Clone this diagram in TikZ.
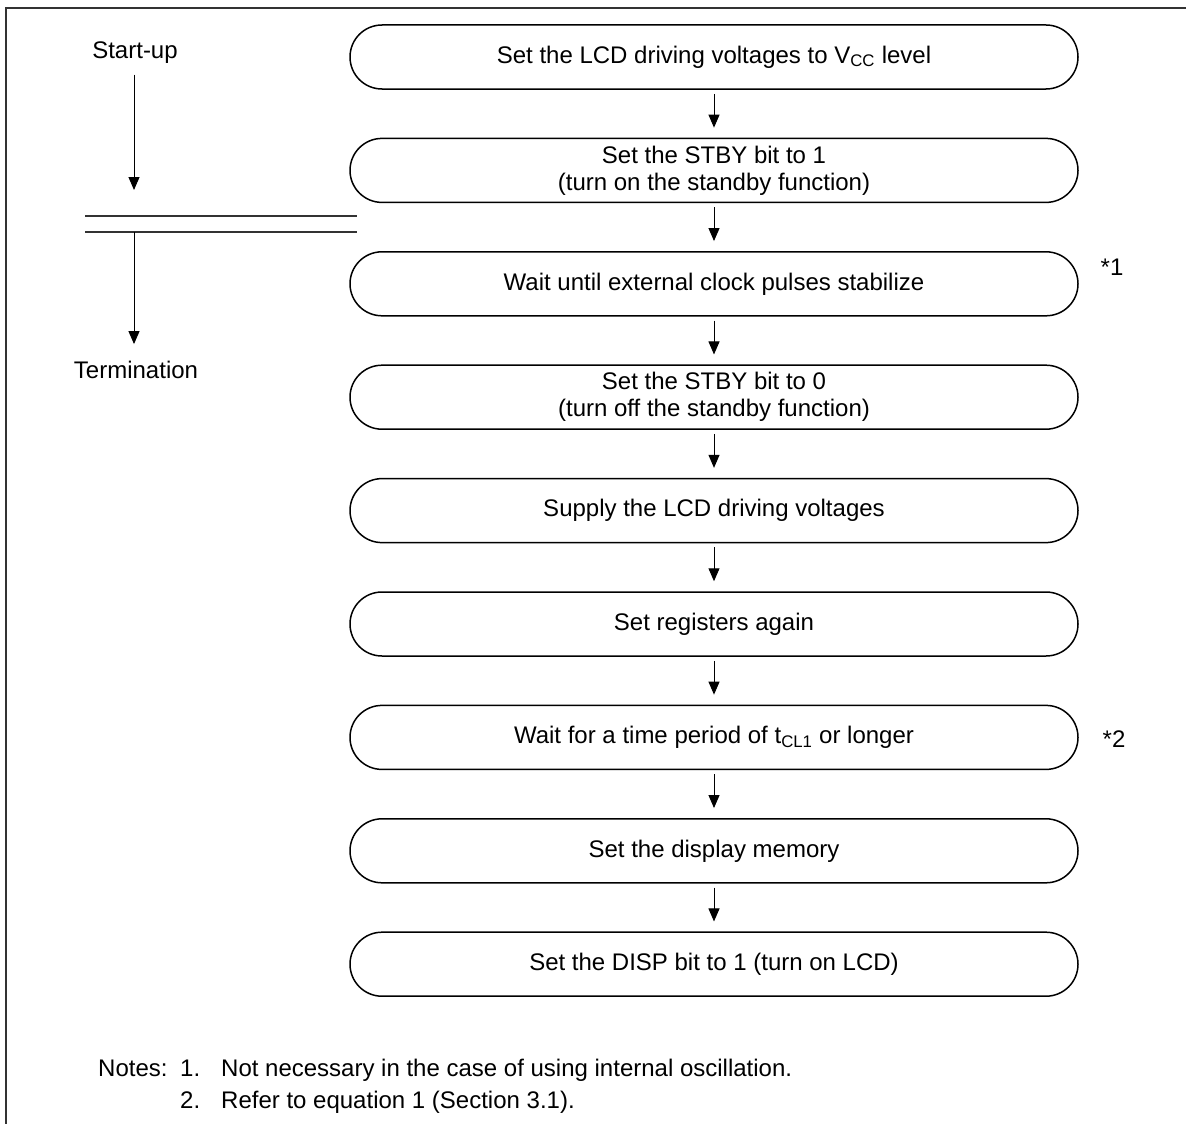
\documentclass[tikz,border=0pt]{standalone}
\usepackage{fontspec}
\setmainfont{Liberation Sans}
\usetikzlibrary{arrows.meta}

\begin{document}
\begin{tikzpicture}[x=1pt,y=-1pt,node distance=113.4pt,
  every node/.style={font=\fontsize{24}{27}\selectfont},
  box/.style={draw,line width=1.5pt,rounded corners=32pt,minimum width=728pt,minimum height=64pt,align=center},
  note/.style={anchor=base west,inner sep=0pt},
  >={Triangle[length=13pt,width=11pt]}]
\useasboundingbox (0,0) rectangle (1186,1124);
\draw [black!80, line width=1.3pt] (6,1124) -- (6,8) -- (1186,8);

\node [box] (a) at (714,57) {Set the LCD driving voltages to V\textsubscript{CC} level};
\node [box, below of=a] (b) {Set the STBY bit to 1\\(turn on the standby function)};
\node [box, below of=b] (c) {Wait until external clock pulses stabilize};
\node [box, below of=c] (d) {Set the STBY bit to 0\\(turn off the standby function)};
\node [box, below of=d] (e) {Supply the LCD driving voltages};
\node [box, below of=e] (f) {Set registers again};
\node [box, below of=f] (g) {Wait for a time period of t\textsubscript{CL1} or longer};
\node [box, below of=g] (h) {Set the display memory};
\node [box, below of=h] (i) {Set the DISP bit to 1 (turn on LCD)};
\node [right of=c, node distance=398pt, yshift=17pt] (s1) {*1};
\node [right of=g, node distance=400pt, yshift=-2pt] (s2) {*2};

\draw [->, line width=1pt, shorten <=4pt, shorten >=10pt] (a) -- (b);
\draw [->, line width=1pt, shorten <=4pt, shorten >=10pt] (b) -- (c);
\draw [->, line width=1pt, shorten <=4pt, shorten >=10pt] (c) -- (d);
\draw [->, line width=1pt, shorten <=4pt, shorten >=10pt] (d) -- (e);
\draw [->, line width=1pt, shorten <=4pt, shorten >=10pt] (e) -- (f);
\draw [->, line width=1pt, shorten <=4pt, shorten >=10pt] (f) -- (g);
\draw [->, line width=1pt, shorten <=4pt, shorten >=10pt] (g) -- (h);
\draw [->, line width=1pt, shorten <=4pt, shorten >=10pt] (h) -- (i);

% start-up / termination
\node [anchor=base] (up) at (135,59) {Start-up};
\node [anchor=base] (term) at (136,378) {Termination};
\coordinate (upend) at (134,190);
\coordinate (l1) at (85,216);
\coordinate (r1) at (357,216);
\coordinate (l2) at (85,232);
\coordinate (r2) at (357,232);
\coordinate (down) at (134,232);
\draw [->, line width=1pt, shorten <=7pt] (up.south -| upend) -- (upend);
\draw [black!80, line width=1.2pt] (l1) -- (r1);
\draw [black!80, line width=1.2pt] (l2) -- (r2);
\draw [->, line width=1pt, shorten >=13pt] (down) -- (down |- term.north);

% notes
\node [note] (notes) at (98,1076) {Notes:};
\node [note] (n1) at (180,1076) {1.};
\node [note] (t1) at (221,1076) {Not necessary in the case of using internal oscillation.};
\node [note] (n2) at (180,1108) {2.};
\node [note] (t2) at (221,1108) {Refer to equation 1 (Section 3.1).};
\end{tikzpicture}
\end{document}
